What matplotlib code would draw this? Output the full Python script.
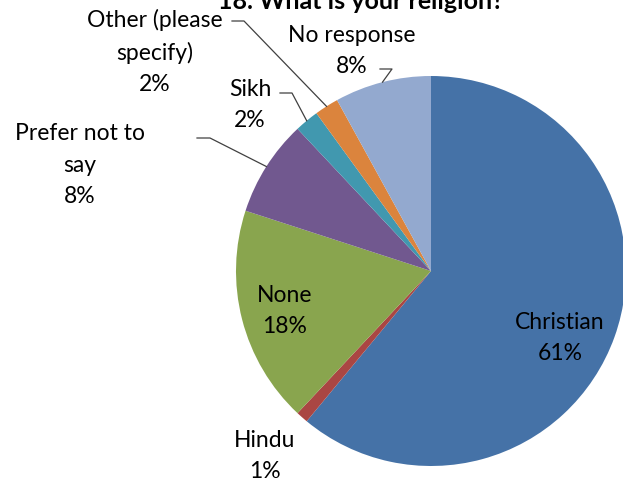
import numpy as np
import matplotlib.pyplot as plt

categories = ['Christian', 'Hindu', 'None', 'Prefer not to\nsay', 'Sikh',
              'Other (please\nspecify)', 'No response']
values = [61, 1, 18, 8, 2, 2, 8]
colors = ['#4572A7', '#AA4643', '#89A54E', '#71588F', '#4198AF', '#DB843D', '#93A9CF']

plt.rcParams['font.family'] = ['Lato', 'DejaVu Sans']

fig = plt.figure(figsize=(6.23, 4.85), dpi=100)
ax = fig.add_axes([0, 0, 1, 1])

cx, cy, r = 431, 213, 195
wedges, _ = ax.pie(values, colors=colors, startangle=90, counterclock=False,
                   center=(cx, cy), radius=r, frame=True,
                   wedgeprops=dict(linewidth=0))
ax.set_xlim(0, 623)
ax.set_ylim(0, 485)
ax.set_aspect('equal')
ax.axis('off')

fs = 16.5
ls = 1.6
# inside labels
inside = {0: (560, 147), 2: (285, 174)}
# outside labels: text centre, short horizontal tick next to text
outside = {
    1: ((265, 29), None),
    3: ((80, 320), (197, 210, 346)),
    4: ((250, 380), (280, 292, 391)),
    5: ((155, 433), (232, 244, 463)),
    6: ((352, 434), (380, 392, 415)),
}
for i, w in enumerate(wedges):
    label = f'{categories[i]}\n{values[i]}%'
    ang = np.deg2rad((w.theta1 + w.theta2) / 2)
    if i in inside:
        ax.text(*inside[i], label, ha='center', va='center', fontsize=fs,
                linespacing=ls)
    else:
        (tx, ty), tick = outside[i]
        ax.text(tx, ty, label, ha='center', va='center', fontsize=fs, linespacing=ls)
        if tick is not None:
            px = cx + r * np.cos(ang)
            py = cy + r * np.sin(ang)
            x0, x1, ey = tick
            ax.plot([x0, x1, px], [ey, ey, py], color='#404040', lw=0.9)

ax.text(361, 476, '18. What is your religion?', ha='center', va='baseline',
        fontsize=18, fontweight='bold')

fig.savefig('out.png', dpi=100)
